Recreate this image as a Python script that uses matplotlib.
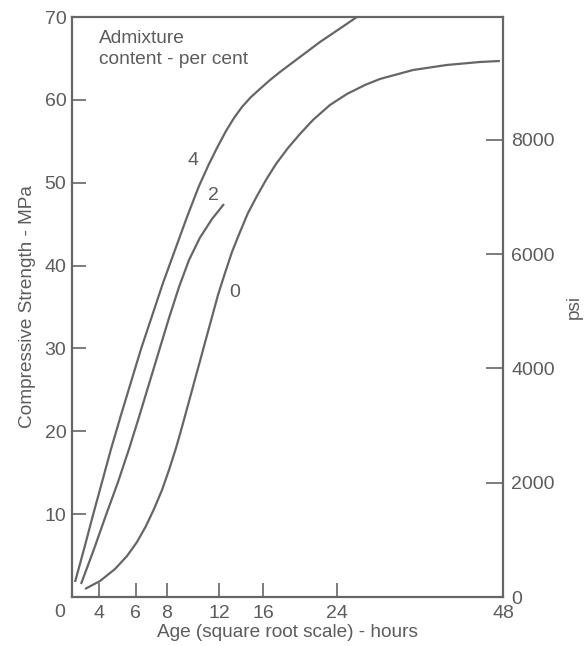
import matplotlib.pyplot as plt
import numpy as np
from matplotlib.ticker import FixedLocator, FixedFormatter

# Age in hours and compressive strength in MPa for each admixture content
age_0 = [3.346, 4.049, 4.819, 5.482, 6.068, 6.621, 7.133, 7.663, 8.143, 8.638, 9.073, 9.520,
         9.976, 10.444, 10.922, 11.411, 11.911, 12.508, 13.119, 13.835, 14.570, 15.420,
         16.294, 17.294, 18.532, 19.813, 21.250, 23.204, 25.245, 27.499, 29.451, 33.980,
         38.986, 44.174, 47.476]
mpa_0 = [0.97, 1.93, 3.38, 4.95, 6.64, 8.57, 10.62, 12.91, 15.33, 17.98, 20.52, 23.17,
         25.83, 28.48, 31.14, 33.79, 36.45, 39.10, 41.64, 44.05, 46.34, 48.40,
         50.33, 52.26, 54.19, 55.88, 57.57, 59.38, 60.71, 61.79, 62.52, 63.60,
         64.21, 64.57, 64.69]

age_2 = [3.170, 3.760, 4.349, 4.981, 5.597, 6.189, 6.811, 7.462, 8.143, 8.854, 9.595,
         10.426, 11.411, 12.421]
mpa_2 = [1.57, 5.79, 9.90, 13.88, 17.86, 21.72, 25.71, 29.69, 33.67, 37.41, 40.67,
         43.33, 45.62, 47.43]

age_4 = [2.915, 3.302, 3.713, 4.148, 4.607, 5.145, 5.713, 6.311, 7.003, 7.731, 8.566,
         9.444, 10.365, 11.165, 11.911, 12.594, 13.296, 14.017, 14.851, 15.806, 16.690,
         17.702, 19.813, 22.044, 24.394, 26.485]
mpa_4 = [1.81, 5.79, 9.90, 13.88, 17.86, 21.97, 25.95, 29.93, 33.91, 37.90, 41.88,
         45.86, 49.60, 52.26, 54.43, 56.24, 57.81, 59.14, 60.34, 61.43, 62.39,
         63.36, 65.17, 66.98, 68.61, 70.0]

curve_labels = ['0', '2', '4']
label_pos = [(13.39, 36.8), (11.49, 48.5), (9.90, 52.7)]

x_ticks = [4, 6, 8, 12, 16, 24, 48]
y_ticks = [10, 20, 30, 40, 50, 60, 70]
psi_ticks = [0, 2000, 4000, 6000, 8000]
MPA_TO_PSI = 145.04

grey = '#666666'
text_grey = '#5c5c5c'
plt.rcParams['font.family'] = ['Liberation Sans', 'DejaVu Sans']

fig = plt.figure(figsize=(5.84, 6.46), dpi=100)
ax = fig.add_axes([72 / 584, 1 - 597 / 646, 431 / 584, 580 / 646])

# square root scale on the age axis
ax.set_xscale('function', functions=(lambda x: np.sqrt(np.clip(x, 0, None)), lambda x: np.square(x)))
ax.set_xlim(2.79, 48)
ax.set_ylim(0, 70)

for age, mpa in [(age_0, mpa_0), (age_2, mpa_2), (age_4, mpa_4)]:
    ax.plot(age, mpa, color=grey, lw=1.6, solid_capstyle='butt', solid_joinstyle='round')

for lab, (x, y) in zip(curve_labels, label_pos):
    ax.text(x, y, lab, color=text_grey, ha='center', va='center', fontsize=14)

ax.text(0.062, 0.977, 'Admixture\ncontent - per cent', transform=ax.transAxes,
        ha='left', va='top', color=text_grey, fontsize=13.8, linespacing=1.25)

ax.xaxis.set_major_locator(FixedLocator(x_ticks))
ax.xaxis.set_major_formatter(FixedFormatter([str(t) for t in x_ticks]))
ax.xaxis.set_minor_locator(FixedLocator([]))
ax.yaxis.set_major_locator(FixedLocator(y_ticks))
ax.tick_params(axis='both', direction='in', length=10, width=1.2, color=grey,
               labelcolor=text_grey, labelsize=14)
ax.tick_params(axis='x', pad=6)
ax.tick_params(axis='y', pad=4)
ax.annotate('0', xy=(0, 0), xycoords='axes fraction', xytext=(-12, -7),
            textcoords='offset pixels', ha='center', va='top', color=text_grey, fontsize=14)

for s in ax.spines.values():
    s.set_color(grey)
    s.set_linewidth(1.6)

ax2 = ax.twinx()
ax2.set_ylim(0, 70 * MPA_TO_PSI)
ax2.yaxis.set_major_locator(FixedLocator(psi_ticks))
ax2.tick_params(axis='y', direction='in', length=12, width=1.2, color=grey,
                labelcolor=text_grey, labelsize=14, pad=6)
for s in ax2.spines.values():
    s.set_visible(False)

ax.set_xlabel('Age (square root scale) - hours', color=text_grey, fontsize=13.7, labelpad=1)
ax.set_ylabel('Compressive Strength - MPa', color=text_grey, fontsize=13.7, labelpad=6)
ax2.set_ylabel('psi', color=text_grey, fontsize=13.7, labelpad=8)

fig.savefig('out.png', dpi=100)
